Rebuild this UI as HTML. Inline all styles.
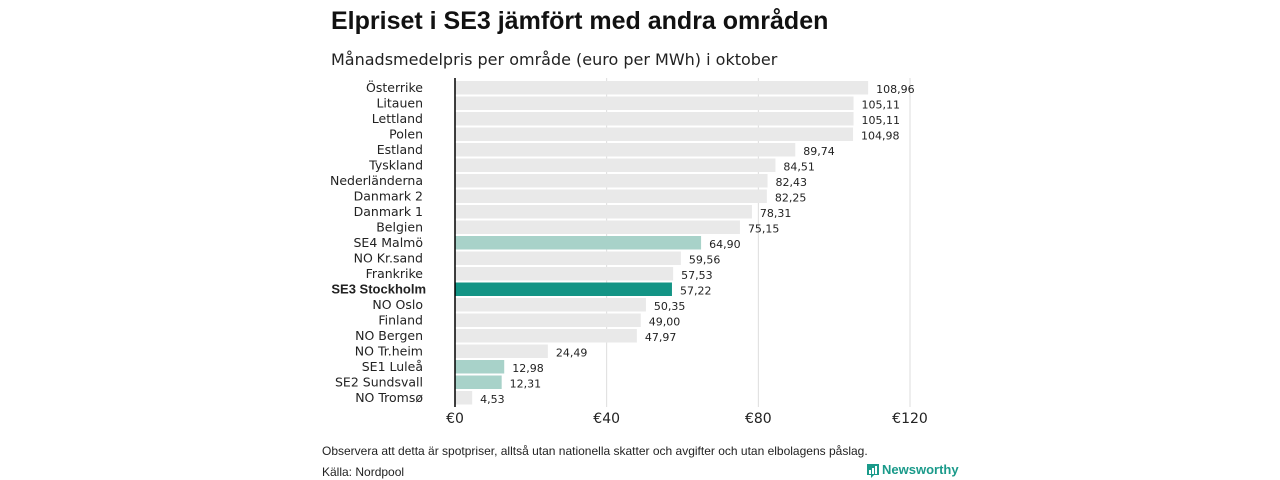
<!DOCTYPE html>
<html><head><meta charset="utf-8"><style>
body{margin:0;width:1280px;height:480px;background:#fff;overflow:hidden;font-family:"Liberation Sans","DejaVu Sans",sans-serif}
</style></head><body>
<svg id="c" width="1280" height="480" style="position:absolute;left:0;top:0">
<text x="331" y="29" font-size="25" font-weight="bold" fill="#111">Elpriset i SE3 jämfört med andra områden</text>
<text x="331" y="65" font-size="16" fill="#222" font-family="DejaVu Sans, sans-serif">Månadsmedelpris per område (euro per MWh) i oktober</text>
<g id="grid"></g><g id="bars"></g>
<text x="322" y="455" font-size="12" fill="#222">Observera att detta är spotpriser, alltså utan nationella skatter och avgifter och utan elbolagens påslag.</text>
<text x="322" y="476" font-size="12" fill="#222">Källa: Nordpool</text>
<g>
<path d="M867 464h12v11h-5l-3 3v-3h-4z" fill="#1a9a8a"/>
<rect x="869" y="470" width="2" height="4" fill="#fff"/><rect x="872" y="468" width="2" height="6" fill="#fff"/><rect x="875" y="466" width="2" height="8" fill="#fff"/>
<text x="882" y="474" font-size="13" font-weight="bold" fill="#1a9a8a">Newsworthy</text></g>
</svg>
<script>
const categories=["Österrike","Litauen","Lettland","Polen","Estland","Tyskland","Nederländerna","Danmark  2","Danmark  1","Belgien","SE4  Malmö","NO Kr.sand","Frankrike","SE3 Stockholm","NO Oslo","Finland","NO Bergen","NO Tr.heim","SE1  Luleå","SE2  Sundsvall","NO Tromsø"];
const values=[108.96,105.11,105.11,104.98,89.74,84.51,82.43,82.25,78.31,75.15,64.90,59.56,57.53,57.22,50.35,49.00,47.97,24.49,12.98,12.31,4.53];
const ticks=[0,40,80,120];
const x=v=>455+v*3.7917;
const y=i=>81+i*15.5;
const ns="http://www.w3.org/2000/svg";
const g=document.getElementById('grid'),b=document.getElementById('bars');
function mk(t,a,p){const e=document.createElementNS(ns,t);for(const k in a)e.setAttribute(k,a[k]);p.appendChild(e);return e;}
ticks.forEach(t=>{
 if(t>0){const l=mk('line',{x1:x(t),x2:x(t),y1:78,y2:407,stroke:'#ddd','stroke-width':1},g);
 
 }
 const tx=mk('text',{x:x(t),y:423,'font-size':14,'text-anchor':'middle',fill:'#222','font-family':'DejaVu Sans, sans-serif'},g);tx.textContent='€'+t;
 
 
});
categories.forEach((c,i)=>{
 const col=c==="SE3 Stockholm"?'#139485':(c.startsWith("SE")?'#a8d2c9':'#e9e9e9');
 const r=mk('rect',{x:455,y:y(i),width:x(values[i])-455,height:13.5,fill:col},b);
 
 
 const l=mk('text',{x:423,y:y(i)+11,'font-size':12.5,'text-anchor':'end',fill:'#222','font-family':'DejaVu Sans, sans-serif'},b);
 if(c==="SE3 Stockholm"){l.setAttribute('font-weight','bold');l.setAttribute('x',426);l.setAttribute('font-family','Liberation Sans, sans-serif');l.setAttribute('font-size','13');}
 l.textContent=c;
 
 
 const v=mk('text',{x:x(values[i])+8,y:y(i)+12,'font-size':11,fill:'#222','font-family':'DejaVu Sans, sans-serif'},b);
 v.textContent=values[i].toFixed(2).replace('.',',');
 
 
});
const ax=mk('line',{x1:455,x2:455,y1:78,y2:407,stroke:'#000','stroke-width':1.5},b);


</script>
</body></html>
